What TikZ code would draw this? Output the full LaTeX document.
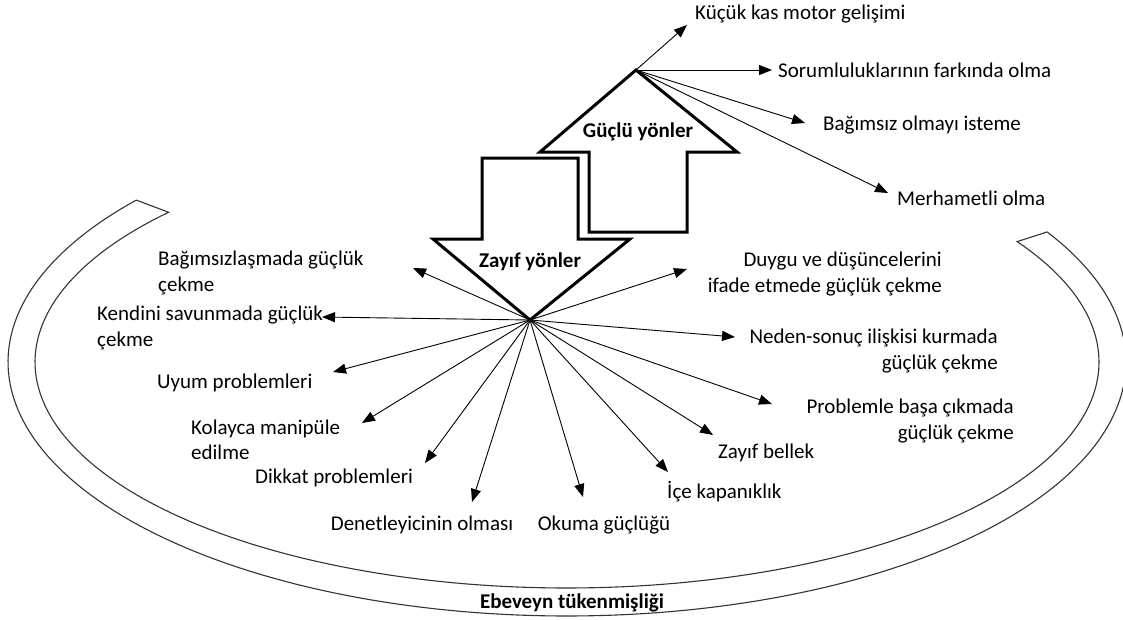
\documentclass[tikz,border=0pt]{standalone}
\usepackage{fontspec}
\setmainfont{Carlito}
\usetikzlibrary{arrows.meta}
\begin{document}
\begin{tikzpicture}[x=1pt,y=-1pt,
  lbl/.style={inner sep=0pt, font=\fontsize{21}{25.5}\selectfont},
  boldlbl/.style={inner sep=0pt, font=\fontsize{21}{25.5}\selectfont\bfseries},
  blockarrow/.style={draw=black, line width=3pt, fill=white, line join=miter},
  link/.style={draw=black, line width=0.9pt, -{Triangle[length=13pt,width=10pt]}},
  band/.style={draw=black!80, line width=1.1pt}]
\useasboundingbox (0,0) rectangle (1123,619);

% surrounding band: parental burnout
\draw[band]
  plot[domain=-390.8:-140.4, samples=180, variable=\t] ({567+559*cos(\t)},{362+254*sin(\t)})
  -- plot[domain=138.5:392.2, samples=180, variable=\t] ({567+532*cos(-\t)},{362+226*sin(-\t)})
  -- cycle;
\node[boldlbl] (ebeveyn) at (572,603) {Ebeveyn tükenmişliği};

% weaknesses: downward block arrow
\draw[blockarrow] (482,158) -- (578,158) -- (578,239) -- (630,239) -- (530,320)
  -- (433,239) -- (482,239) -- cycle;
\coordinate (dn) at (530,320);
\node[boldlbl] (zayif) at (530,262) {Zayıf yönler};

% strengths: upward block arrow
\draw[blockarrow] (636,70) -- (737,152) -- (687,152) -- (687,232) -- (589,232)
  -- (589,152) -- (540,152) -- cycle;
\coordinate (up) at (636,70);
\node[boldlbl] (guclu) at (638,132) {Güçlü yönler};

% strengths labels
\node[lbl, anchor=west] (kucuk) at (695,14) {Küçük kas motor gelişimi};
\node[lbl, anchor=west] (sorum) at (778,70) {Sorumluluklarının farkında olma};
\node[lbl, anchor=west] (bagimsiz) at (823,125) {Bağımsız olmayı isteme};
\node[lbl, anchor=west] (merhamet) at (897,198) {Merhametli olma};

% weaknesses labels
\node[lbl, anchor=west, align=left] (bagimsizlasma) at (158,273) {Bağımsızlaşmada güçlük\\çekme};
\node[lbl, anchor=west, align=left] (kendini) at (97,328) {Kendini savunmada güçlük\\çekme};
\node[lbl, anchor=west] (uyum) at (157,383) {Uyum problemleri};
\node[lbl, anchor=west, align=left] (kolayca) at (191,440) {Kolayca manipüle\\edilme};
\node[lbl, anchor=west] (dikkat) at (255,478) {Dikkat problemleri};
\node[lbl] (denet) at (422,525) {Denetleyicinin olması};
\node[lbl] (okuma) at (604,525) {Okuma güçlüğü};
\node[lbl, anchor=west] (ice) at (667,492) {İçe kapanıklık};
\node[lbl, anchor=west] (bellek) at (718,453) {Zayıf bellek};
\node[lbl, anchor=east, align=right] (problem) at (1014,421) {Problemle başa çıkmada\\güçlük çekme};
\node[lbl, anchor=east, align=right] (neden) at (998,351) {Neden-sonuç ilişkisi kurmada\\güçlük çekme};
\node[lbl, anchor=east, align=right] (duygu) at (942,274) {Duygu ve düşüncelerini\\ifade etmede güçlük çekme};

% arrow end points
\coordinate (tKucuk) at (687,25);
\coordinate (tSorum) at (772,70);
\coordinate (tBagimsiz) at (805,123);
\coordinate (tMerhamet) at (888,193);
\coordinate (tBagimsizlasma) at (413,268);
\coordinate (tKendini) at (322,317);
\coordinate (tUyum) at (333,372);
\coordinate (tKolayca) at (362,423);
\coordinate (tDikkat) at (425,463);
\coordinate (tDenet) at (472,502);
\coordinate (tOkuma) at (583,497);
\coordinate (tIce) at (668,472);
\coordinate (tBellek) at (713,435);
\coordinate (tProblem) at (772,404);
\coordinate (tNeden) at (735,337);
\coordinate (tDuygu) at (687,269);

% connectors
\foreach \e in {tKucuk,tSorum,tBagimsiz,tMerhamet}
  \draw[link] (up) -- (\e);
\foreach \e in {tBagimsizlasma,tKendini,tUyum,tKolayca,tDikkat,tDenet,tOkuma,tIce,tBellek,tProblem,tNeden,tDuygu}
  \draw[link] (dn) -- (\e);
\end{tikzpicture}
\end{document}
